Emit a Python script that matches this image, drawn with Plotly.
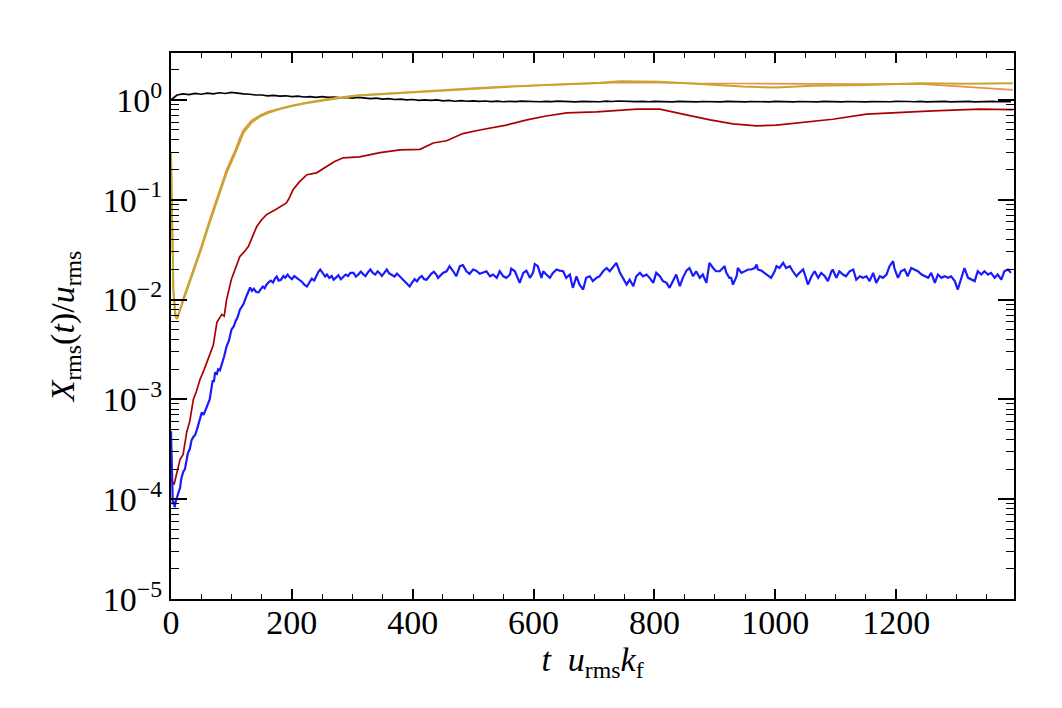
import plotly.graph_objects as go

# ---------------- data ----------------
black_t = list(range(0, 1400, 10))
black_v = [1.00, 1.12, 1.15, 1.13, 1.16, 1.14, 1.17, 1.15, 1.18, 1.16,
           1.19, 1.16, 1.15, 1.14, 1.12, 1.12, 1.10, 1.11, 1.09, 1.10,
           1.08, 1.09, 1.07, 1.08, 1.06, 1.08, 1.06, 1.07, 1.05, 1.06,
           1.04, 1.06, 1.04, 1.03, 1.04, 1.02, 1.03, 1.01, 1.02, 1.00,
           1.01, 0.99, 1.00, 0.99, 1.00, 0.98, 0.99, 0.97, 0.985, 0.97,
           0.98, 0.965, 0.975, 0.962, 0.972, 0.958, 0.968, 0.960, 0.972, 0.963,
           0.970, 0.958, 0.966, 0.960, 0.971, 0.962, 0.968, 0.957, 0.966, 0.961,
           0.969, 0.958, 0.972, 0.964, 0.975, 0.966, 0.972, 0.960, 0.967, 0.958,
           0.966, 0.960, 0.969, 0.957, 0.965, 0.959, 0.968, 0.956, 0.964, 0.958,
           0.967, 0.957, 0.965, 0.960, 0.968, 0.956, 0.964, 0.958, 0.966, 0.957,
           0.965, 0.959, 0.968, 0.957, 0.964, 0.958, 0.966, 0.956, 0.965, 0.959,
           0.967, 0.957, 0.964, 0.958, 0.966, 0.956, 0.963, 0.957, 0.966, 0.958,
           0.965, 0.957, 0.964, 0.959, 0.967, 0.956, 0.964, 0.958, 0.965, 0.957,
           0.963, 0.958, 0.966, 0.956, 0.964, 0.957, 0.965, 0.958, 0.964, 0.960]

orange_t = [0, 1, 2, 4, 8, 11, 15, 20, 28, 37, 50, 64, 78, 92, 106, 114, 120,
            133, 147, 160, 180, 200, 225, 263, 307, 346, 400, 456, 510, 566,
            620, 676, 710, 743, 809, 875, 946, 1002, 1062, 1151, 1239, 1289,
            1342, 1393]
orange_v = [0.30, 0.10, 0.03, 0.012, 0.0068, 0.0067, 0.0080, 0.0102, 0.014, 0.020,
            0.034, 0.063, 0.112, 0.20, 0.31, 0.42, 0.50, 0.62, 0.70, 0.76,
            0.82, 0.88, 0.94, 1.03, 1.11, 1.15, 1.20, 1.26, 1.32, 1.37,
            1.42, 1.45, 1.47, 1.50, 1.49, 1.46, 1.46, 1.45, 1.44, 1.44, 1.45,
            1.39, 1.33, 1.26]

gold_t = [0, 1, 2, 4, 7, 10, 14, 20, 28, 37, 50, 64, 78, 92, 106, 114, 120,
          133, 147, 160, 180, 200, 225, 263, 307, 346, 400, 456, 510, 566,
          620, 676, 710, 743, 771, 809, 875, 946, 1002, 1062, 1151, 1239,
          1316, 1393]
gold_v = [0.30, 0.10, 0.03, 0.012, 0.0068, 0.0064, 0.0075, 0.0095, 0.013, 0.0186,
          0.032, 0.059, 0.105, 0.186, 0.29, 0.39, 0.47, 0.59, 0.68, 0.74,
          0.81, 0.87, 0.93, 1.01, 1.10, 1.14, 1.19, 1.26, 1.31, 1.36,
          1.41, 1.45, 1.49, 1.54, 1.53, 1.52, 1.44, 1.36, 1.33, 1.39, 1.41,
          1.47, 1.45, 1.47]

red_t = [0, 2, 5, 10, 15, 20, 26, 31, 37, 42, 48, 55, 64, 70, 76, 84, 88, 92,
         100, 107, 114, 121, 128, 135, 142, 150, 158, 172, 180, 191, 196, 202,
         212, 225, 241, 257, 270, 285, 312, 346, 379, 412, 434, 456, 483, 511,
         555, 589, 621, 655, 704, 771, 809, 847, 892, 930, 969, 1002, 1040,
         1095, 1151, 1206, 1261, 1338, 1393]
red_v = [2.2e-4, 1.5e-4, 1.4e-4, 1.9e-4, 2.5e-4, 2.8e-4, 4.7e-4, 6.0e-4, 1.0e-3,
         1.2e-3, 1.58e-3, 2.0e-3, 2.8e-3, 3.5e-3, 5.9e-3, 7.1e-3, 6.8e-3, 0.010,
         0.016, 0.021, 0.027, 0.030, 0.034, 0.043, 0.054, 0.063, 0.071, 0.079,
         0.085, 0.093, 0.105, 0.126, 0.150, 0.178, 0.186, 0.214, 0.240, 0.263,
         0.269, 0.296, 0.316, 0.32, 0.37, 0.39, 0.46, 0.50, 0.56, 0.63, 0.69,
         0.74, 0.76, 0.81, 0.81, 0.72, 0.63, 0.575, 0.55, 0.56, 0.59, 0.64,
         0.72, 0.75, 0.776, 0.81, 0.80]

blue_t = [0, 1, 2, 3, 5, 6, 8, 9, 12, 15, 17, 20, 23, 26, 28, 31, 34, 37, 40, 43,
          47, 51, 54, 58, 61, 64, 67, 69, 71, 73, 76, 78, 81, 84, 88, 92, 96, 100,
          104, 107, 110, 114, 117, 120, 124, 127, 131, 134, 137, 141, 145, 148,
          152, 155, 158, 162, 165, 169, 172, 175, 178, 182, 186, 189, 193, 196,
          200, 204, 208, 213, 217, 221, 225, 229, 233, 237, 241, 244, 247, 251,
          255, 258, 262, 266, 269, 273, 277, 281, 285, 289, 293, 297, 302, 306,
          310, 314, 318, 322, 326, 330, 334, 338, 342, 345, 349, 353, 357, 361,
          365, 370, 374, 379, 383, 387, 391, 395, 399, 403, 407, 411, 415, 419,
          423, 427, 431, 435, 439, 442,
          445, 450, 456, 461, 467, 472, 478, 483, 489, 494, 500, 505, 511, 516,
          522, 528, 533, 539, 544, 550, 555, 561, 563, 569, 574, 577, 583, 588,
          594, 599, 602, 607, 613, 616, 621, 627, 632, 638, 643, 649, 654, 660,
          663, 665, 671, 676, 682, 687, 693, 698, 704, 709, 715, 721, 726, 732,
          737, 743, 748, 754, 759, 765, 770, 776, 781, 787, 792, 798, 803, 809,
          814, 820, 825, 831, 836, 842, 847, 853, 858, 864, 869, 875, 880, 886,
          891, 897, 902, 908, 916, 919, 924,
          927, 930, 936, 938, 944, 949, 955, 960, 966, 969, 971, 977, 982, 988,
          993, 999, 1002, 1007, 1013, 1018, 1024, 1029, 1035, 1040, 1046, 1049,
          1054, 1060, 1065, 1071, 1076, 1082, 1087, 1093, 1095, 1101, 1106, 1112,
          1117, 1123, 1129, 1134, 1140, 1145, 1151, 1156, 1162, 1167, 1173, 1178,
          1184, 1189, 1195, 1197, 1203, 1208, 1214, 1219, 1225, 1230, 1236, 1242,
          1247, 1253, 1258, 1264, 1269, 1275, 1280, 1286, 1291, 1297, 1302, 1308,
          1313, 1319, 1324, 1330, 1335, 1341, 1346, 1352, 1357, 1363, 1368, 1374,
          1379, 1385, 1390]
blue_v = [4.8e-4, 2.5e-4, 1.3e-4, 8.9e-5, 9.5e-5, 8.3e-5, 9.6e-5, 1.0e-4, 1.17e-4,
          1.3e-4, 1.6e-4, 1.86e-4, 2.0e-4, 2.4e-4, 2.9e-4, 3.16e-4, 3.9e-4, 4.2e-4,
          4.4e-4, 5.0e-4, 6.2e-4, 7.4e-4, 7.0e-4, 8.0e-4, 9.1e-4, 1.0e-3, 1.3e-3,
          1.55e-3, 1.5e-3, 1.86e-3, 1.8e-3, 2.0e-3, 1.95e-3, 2.2e-3, 2.7e-3, 3.4e-3,
          3.9e-3, 5.0e-3, 5.4e-3, 6.1e-3, 6.6e-3, 7.9e-3, 8.5e-3, 9.0e-3, 0.0105,
          0.0118, 0.0132, 0.0122, 0.0128, 0.0119, 0.0118, 0.0126, 0.0135, 0.0130,
          0.0141, 0.0150, 0.0155, 0.0148, 0.0162, 0.0170, 0.0155, 0.0158, 0.0172,
          0.0165, 0.0178, 0.0168, 0.0160, 0.0172, 0.0165, 0.0158, 0.0150, 0.0140,
          0.0135, 0.0148, 0.0162, 0.0155, 0.0175, 0.0190, 0.0200, 0.0182, 0.0170,
          0.0178, 0.0165, 0.0172, 0.0158, 0.0166, 0.0175, 0.0160, 0.0168, 0.0178,
          0.0172, 0.0185, 0.0185, 0.0170, 0.0178, 0.0190, 0.0180, 0.0172, 0.0188,
          0.0200, 0.0185, 0.0178, 0.0192, 0.0185, 0.0172, 0.0188, 0.0200, 0.0183,
          0.0176, 0.0170, 0.0182, 0.0170, 0.0160, 0.0150, 0.0142, 0.0135, 0.0148,
          0.0160, 0.0152, 0.0165, 0.0172, 0.0160, 0.0158, 0.0170, 0.0182, 0.0190,
          0.0178, 0.0165,
          0.0171, 0.0185, 0.0192, 0.0216, 0.0192, 0.0171, 0.0216, 0.0221, 0.0192,
          0.0181, 0.0200, 0.0195, 0.0181, 0.0185, 0.0192, 0.0171, 0.0178, 0.0165,
          0.0192, 0.0171, 0.0165, 0.0178, 0.0204, 0.0192, 0.0158, 0.0147, 0.0185,
          0.0195, 0.0165, 0.0185, 0.0227, 0.0216, 0.0165, 0.0192, 0.0178, 0.0165,
          0.0185, 0.0200, 0.0195, 0.0192, 0.0165, 0.0178, 0.0147, 0.0131, 0.0171,
          0.0141, 0.0126, 0.0165, 0.0171, 0.0153, 0.0165, 0.0171, 0.0192, 0.0207,
          0.0192, 0.0216, 0.0233, 0.0185, 0.0165, 0.0141, 0.0158, 0.0136, 0.0171,
          0.0185, 0.0171, 0.0178, 0.0165, 0.0147, 0.0185, 0.0171, 0.0153, 0.0147,
          0.0131, 0.0153, 0.0178, 0.0136, 0.0165, 0.0195, 0.0207, 0.0171, 0.0192,
          0.0165, 0.0178, 0.0147, 0.0233, 0.0207, 0.0192, 0.0192, 0.0216, 0.0185,
          0.0165,
          0.0165, 0.0141, 0.0171, 0.0207, 0.0185, 0.0192, 0.0200, 0.0200, 0.0207,
          0.0224, 0.0200, 0.0195, 0.0185, 0.0171, 0.0165, 0.0192, 0.0216, 0.0207,
          0.0233, 0.0207, 0.0216, 0.0192, 0.0171, 0.0185, 0.0200, 0.0178, 0.0141,
          0.0171, 0.0192, 0.0165, 0.0185, 0.0171, 0.0153, 0.0192, 0.0200, 0.0165,
          0.0192, 0.0178, 0.0171, 0.0192, 0.0200, 0.0158, 0.0171, 0.0165, 0.0171,
          0.0153, 0.0185, 0.0147, 0.0171, 0.0165, 0.0178, 0.0216, 0.0242, 0.0207,
          0.0165, 0.0192, 0.0200, 0.0171, 0.0207, 0.0200, 0.0192, 0.0178, 0.0171,
          0.0165, 0.0185, 0.0147, 0.0178, 0.0165, 0.0171, 0.0165, 0.0171, 0.0153,
          0.0126, 0.0171, 0.0207, 0.0165, 0.0158, 0.0153, 0.0192, 0.0178, 0.0192,
          0.0178, 0.0185, 0.0165, 0.0178, 0.0158, 0.0192, 0.0200, 0.0185]

x_ticks = [0, 200, 400, 600, 800, 1000, 1200]
x_minor = [50, 100, 150, 250, 300, 350, 450, 500, 550, 650, 700, 750,
           850, 900, 950, 1050, 1100, 1150, 1250, 1300, 1350]
y_ticks = [1e-5, 1e-4, 1e-3, 1e-2, 1e-1, 1e0]
y_ticktext = ["10<sup>−5</sup>", "10<sup>−4</sup>", "10<sup>−3</sup>",
              "10<sup>−2</sup>", "10<sup>−1</sup>", "10<sup>0</sup>"]
y_minor = [m * d for d in [1e-5, 1e-4, 1e-3, 1e-2, 1e-1, 1e0] for m in range(2, 10)]

FONT = "Liberation Serif"

fig = go.Figure()
fig.add_trace(go.Scatter(x=black_t, y=black_v, mode="lines",
                         line=dict(color="#000000", width=1.7)))
fig.add_trace(go.Scatter(x=red_t, y=red_v, mode="lines",
                         line=dict(color="#aa0000", width=1.7)))
fig.add_trace(go.Scatter(x=blue_t, y=blue_v, mode="lines",
                         line=dict(color="#1a1aff", width=2.2)))
fig.add_trace(go.Scatter(x=orange_t, y=orange_v, mode="lines",
                         line=dict(color="#ef8a4e", width=1.7)))
fig.add_trace(go.Scatter(x=gold_t, y=gold_v, mode="lines",
                         line=dict(color="#c4a82c", width=2)))

# the page body adds an 8 px offset, so margins are shifted accordingly
fig.update_layout(
    width=1062, height=708,
    margin=dict(l=163, r=56, t=45, b=117),
    paper_bgcolor="white", plot_bgcolor="white",
    showlegend=False,
    font=dict(family=FONT, size=34, color="black"),
    xaxis=dict(
        range=[0, 1395], tickvals=x_ticks, ticks="inside", ticklen=10,
        tickwidth=1.5, tickcolor="black", showline=True, linewidth=2,
        linecolor="black", mirror="ticks", showgrid=False, zeroline=False,
        tickfont=dict(family=FONT, size=34), ticklabelstandoff=-8,
        minor=dict(tickvals=x_minor, ticks="inside", ticklen=5,
                   tickwidth=1.2, tickcolor="black", showgrid=False),
        title=dict(text="<i>t</i>  <i>u</i><sub>rms</sub><i>k</i><sub>f</sub>",
                   font=dict(family=FONT, size=34), standoff=4),
    ),
    yaxis=dict(
        type="log", range=[-5, 0.47], tickvals=y_ticks, ticktext=y_ticktext,
        ticks="inside", ticklen=16, tickwidth=1.5, tickcolor="black",
        showline=True, linewidth=2, linecolor="black", mirror="ticks",
        showgrid=False, zeroline=False, tickfont=dict(family=FONT, size=34),
        minor=dict(tickvals=y_minor, ticks="inside", ticklen=8,
                   tickwidth=1.2, tickcolor="black", showgrid=False),
        title=dict(text="<i>X</i><sub>rms</sub>(<i>t</i>)/<i>u</i><sub>rms</sub>",
                   font=dict(family=FONT, size=34), standoff=18),
    ),
)

fig.write_html("out.html")
